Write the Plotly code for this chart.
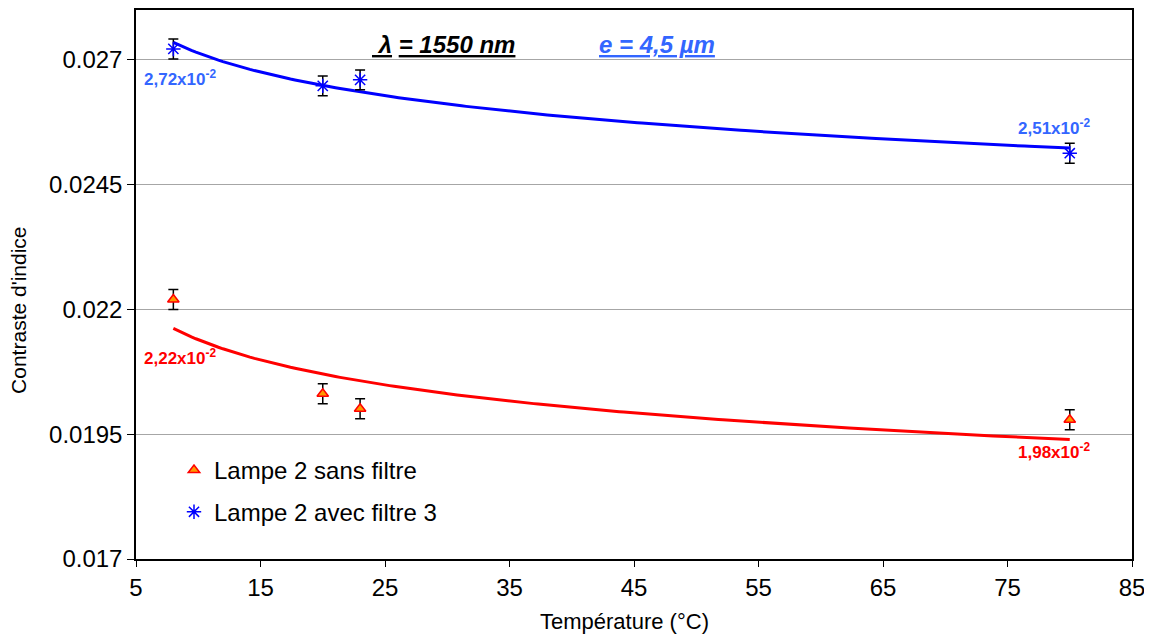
import numpy as np
import plotly.graph_objects as go

# ---- data ----
temperature = [8, 20, 23, 80]
sans_filtre = [0.02220, 0.02031, 0.02001, 0.01979]
avec_filtre = [0.02722, 0.02648, 0.02660, 0.02513]
err_sans = [0.0002, 0.0002, 0.0002, 0.0002]
err_avec = [0.0002, 0.0002, 0.0002, 0.0002]

names = ["Lampe 2 sans filtre", "Lampe 2 avec filtre 3"]
labels_sans = ["2,22x10<sup>-2</sup>", "1,98x10<sup>-2</sup>"]
labels_avec = ["2,72x10<sup>-2</sup>", "2,51x10<sup>-2</sup>"]

y_tickvals = [0.017, 0.0195, 0.022, 0.0245, 0.027]
y_ticktext = ["0.017", "0.0195", "0.022", "0.0245", "0.027"]
x_tickvals = [5, 15, 25, 35, 45, 55, 65, 75, 85]

x_title = "Température (°C)"
y_title = "Contraste d'indice"

FONT = "Arial, Liberation Sans, sans-serif"
BLUE = "#0000FF"
LBLUE = "#3366FF"
RED = "#FF0000"

# page body has an 8px margin: size the figure so the plot area lands where the reference has it
W, H = 1144, 628
ML, MR, MT, MB = 128, 20, 0, 77


def power_fit(x, y):
    b, ln_a = np.polyfit(np.log(x), np.log(y), 1)
    xs = np.linspace(min(x), max(x), 200)
    return xs, np.exp(ln_a) * xs ** b


def px_to_paper(px, py):
    # reference pixel -> paper coords of this figure
    x0, y0 = 8 + ML, 8 + MT
    pw, ph = W - ML - MR, H - MT - MB
    return (px - x0) / pw, 1 - (py - y0) / ph


fig = go.Figure()

# trend lines (power fit of the measurements)
xs, ys = power_fit(temperature, avec_filtre)
fig.add_trace(go.Scatter(x=xs, y=ys, mode="lines", line=dict(color=BLUE, width=3),
                         showlegend=False, hoverinfo="skip"))
xs, ys = power_fit(temperature, sans_filtre)
fig.add_trace(go.Scatter(x=xs, y=ys, mode="lines", line=dict(color=RED, width=3),
                         showlegend=False, hoverinfo="skip"))

# measurements
fig.add_trace(go.Scatter(
    x=temperature, y=sans_filtre, mode="markers", name=names[0],
    marker=dict(symbol="triangle-up", size=10, color="#FF9900",
                line=dict(color=RED, width=1.5)),
    error_y=dict(type="data", array=err_sans, color="black", thickness=1.5, width=5),
    legend="legend"))
fig.add_trace(go.Scatter(
    x=temperature, y=avec_filtre, mode="markers", name=names[1],
    marker=dict(symbol="asterisk-open", size=12, color=BLUE,
                line=dict(color=BLUE, width=1.5)),
    error_y=dict(type="data", array=err_avec, color="black", thickness=1.5, width=5),
    legend="legend2"))

# data labels
lab_font = dict(family=FONT, size=17)
common = dict(showarrow=False, xanchor="center", yanchor="middle")
fig.add_annotation(x=temperature[0], y=avec_filtre[0], text="<b>%s</b>" % labels_avec[0],
                   xshift=7, yshift=-29, font=dict(lab_font, color=LBLUE), **common)
fig.add_annotation(x=temperature[-1], y=avec_filtre[-1], text="<b>%s</b>" % labels_avec[1],
                   xshift=-16, yshift=26, font=dict(lab_font, color=LBLUE), **common)
fig.add_annotation(x=temperature[0], y=sans_filtre[0], text="<b>%s</b>" % labels_sans[0],
                   xshift=7, yshift=-58, font=dict(lab_font, color=RED), **common)
fig.add_annotation(x=temperature[-1], y=sans_filtre[-1], text="<b>%s</b>" % labels_sans[1],
                   xshift=-16, yshift=-31, font=dict(lab_font, color=RED), **common)

# header texts
hx, hy = px_to_paper(443, 43)
fig.add_annotation(xref="paper", yref="paper", x=hx, y=hy,
                   text="<b><i><u> λ</u> <u>= 1550 nm</u></i></b>",
                   font=dict(family=FONT, size=24, color="black"), **common)
hx, hy = px_to_paper(657, 43)
fig.add_annotation(xref="paper", yref="paper", x=hx, y=hy,
                   text="<b><i><u>e = 4,5 µm</u></i></b>",
                   font=dict(family=FONT, size=24, color=LBLUE), **common)

# axis titles
tx, ty = px_to_paper(624, 622)
fig.add_annotation(xref="paper", yref="paper", x=tx, y=ty, text=x_title,
                   font=dict(family=FONT, size=22, color="black"), **common)
tx, ty = px_to_paper(19, 310)
fig.add_annotation(xref="paper", yref="paper", x=tx, y=ty, text=y_title, textangle=-90,
                   font=dict(family=FONT, size=21, color="black"), **common)

lx, ly1 = px_to_paper(174, 470)
_, ly2 = px_to_paper(174, 512)
fig.update_layout(
    width=W, height=H,
    margin=dict(l=ML, r=MR, t=MT, b=MB, pad=0),
    paper_bgcolor="white", plot_bgcolor="white",
    font=dict(family=FONT, size=22, color="black"),
    legend=dict(x=lx, y=ly1, xanchor="left", yanchor="middle",
                bgcolor="rgba(0,0,0,0)", font=dict(size=24)),
    legend2=dict(x=lx, y=ly2, xanchor="left", yanchor="middle",
                 bgcolor="rgba(0,0,0,0)", font=dict(size=24)),
)
fig.update_xaxes(range=[5, 85], tickvals=x_tickvals, showgrid=False, zeroline=False,
                 showline=True, linecolor="black", linewidth=1.5, mirror=True,
                 ticks="outside", ticklen=6, tickcolor="black",
                 tickfont=dict(size=24))
fig.update_yaxes(range=[0.017, 0.028], tickvals=y_tickvals, ticktext=y_ticktext,
                 showgrid=True, gridcolor="#A6A6A6", gridwidth=1, zeroline=False,
                 showline=True, linecolor="black", linewidth=1.5, mirror=True,
                 ticks="outside", ticklen=7, tickcolor="black",
                 tickfont=dict(size=24))

fig.write_html("out.html")
